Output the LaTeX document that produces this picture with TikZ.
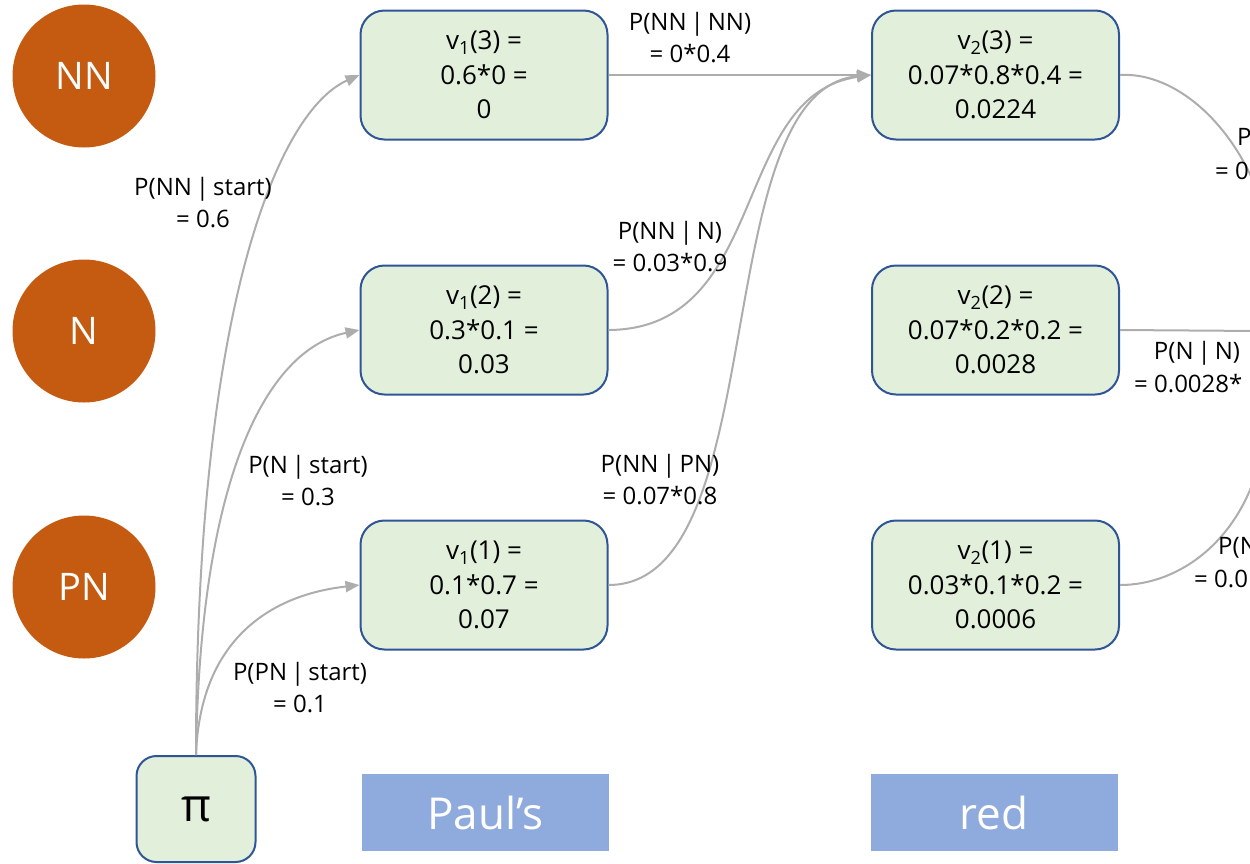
\documentclass[tikz,border=0pt]{standalone}
\usepackage{fontspec}
\setmainfont{Open Sans}
\usetikzlibrary{arrows.meta}
\definecolor{tagorange}{HTML}{C55A11}
\definecolor{cellfill}{HTML}{E2EFDA}
\definecolor{cellline}{HTML}{2F5597}
\definecolor{wire}{HTML}{ADADAD}
\definecolor{wordblue}{HTML}{8FAADC}

\begin{document}
\begin{tikzpicture}[x=1pt,y=-1pt,
  tag/.style={circle,fill=tagorange,minimum size=143pt,inner sep=0pt,text=white,font=\fontsize{38}{46}\selectfont},
  cell/.style={draw=cellline,line width=2pt,fill=cellfill,rounded corners=24pt,minimum width=247pt,minimum height=129pt,inner sep=0pt,align=center,font=\fontsize{26}{34.5}\selectfont},
  word/.style={fill=wordblue,minimum width=247pt,minimum height=77pt,inner sep=0pt,text=white,font=\fontsize{44}{50}\selectfont},
  prob/.style={align=center,inner sep=0pt,font=\fontsize{24}{32}\selectfont},
  link/.style={draw=wire,line width=2pt},
  arr/.style={link,-{Triangle[length=14pt,width=11pt]}}]
\clip (0,0) rectangle (1250,863);

% tag circles
\node[tag] (NN) at (84,76) {NN};
\node[tag] (N) at (84,331) {N};
\node[tag] (PN) at (84,587) {PN};

% start node
\node[cell,minimum width=119pt,minimum height=106pt,rounded corners=20pt,font=\fontsize{46}{50}\selectfont] (pi) at (196,809) {π};

% Viterbi cells, step 1
\node[cell] (a3) at (484,75) {v\textsubscript{1}(3) =\\0.6*0 =\\0};
\node[cell] (a2) at (484,330) {v\textsubscript{1}(2) =\\0.3*0.1 =\\0.03};
\node[cell] (a1) at (484,585) {v\textsubscript{1}(1) =\\0.1*0.7 =\\0.07};

% Viterbi cells, step 2
\node[cell] (b3) at (995.5,75) {v\textsubscript{2}(3) =\\0.07*0.8*0.4 =\\0.0224};
\node[cell] (b2) at (995.5,330) {v\textsubscript{2}(2) =\\0.07*0.2*0.2 =\\0.0028};
\node[cell] (b1) at (995.5,585) {v\textsubscript{2}(1) =\\0.03*0.1*0.2 =\\0.0006};

% words
\node[word] (w1) at (485.5,812.5) {Paul’s};
\node[word] (w2) at (994,812.5) {red};

% transitions from start
\draw[arr] (pi.north) .. controls (196,300) and (280,110) .. (a3.west);
\draw[arr] (pi.north) .. controls (200,480) and (265,350) .. (a2.west);
\draw[arr] (pi.north) .. controls (200,640) and (270,595) .. (a1.west);

% transitions into v2(3)
\draw[arr] (a3.east) -- (b3.west);
\draw[arr] (a2.east) .. controls (770,329) and (730,95) .. (b3.west);
\draw[arr] (a1.east) .. controls (775,585) and (705,90) .. (b3.west);

% transitions leaving step 2
\coordinate (o3) at (1255,185);
\coordinate (o2) at (1260,331);
\coordinate (o1) at (1260,460);
\draw[link] (b3.east) .. controls (1170,72) and (1225,115) .. (o3);
\draw[link] (b2.east) -- (o2);
\draw[link] (b1.east) .. controls (1180,585) and (1240,540) .. (o1);

% probabilities
\node[prob] (p1) at (690,38) {P(NN\,|\,NN)\\= 0*0.4};
\node[prob] (p2) at (203,203) {P(NN\,|\,start)\\= 0.6};
\node[prob] (p3) at (670,247) {P(NN\,|\,N)\\= 0.03*0.9};
\node[prob] (p4) at (308,481) {P(N\,|\,start)\\= 0.3};
\node[prob] (p5) at (660,480) {P(NN\,|\,PN)\\= 0.07*0.8};
\node[prob] (p6) at (300,688) {P(PN\,|\,start)\\= 0.1};
\node[prob,anchor=west] (q1a) at (1237,137) {P};
\node[prob,anchor=west] (q1b) at (1215,171) {= 0};
\node[prob] (q2a) at (1197,353) {P(N\,|\,N)};
\node[prob,anchor=west] (q2b) at (1134,384) {= 0.0028*};
\node[prob,anchor=west] (q3a) at (1218,548) {P(N};
\node[prob,anchor=west] (q3b) at (1194,579) {= 0.0};
\end{tikzpicture}
\end{document}
